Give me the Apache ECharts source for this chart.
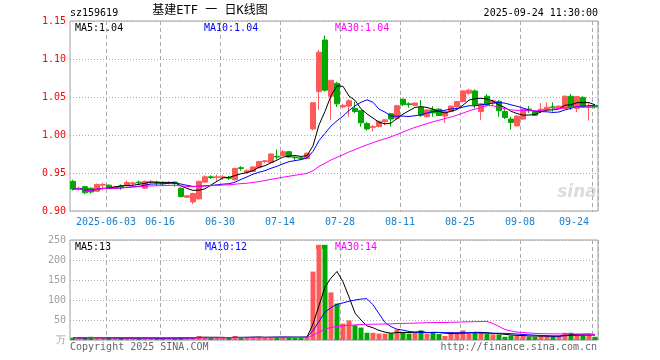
<!DOCTYPE html>
<html><head><meta charset="utf-8">
<script src="https://cdn.jsdelivr.net/npm/echarts@6/dist/echarts.min.js"></script>
<style>html,body{margin:0;padding:0;background:#fff}#c{width:660px;height:360px}</style>
</head><body><div id="c"></div>
<script>
const dates = [
'2025-05-23','2025-05-26','2025-05-27','2025-05-28','2025-05-29','2025-05-30',
'2025-06-03','2025-06-04','2025-06-05','2025-06-06','2025-06-09','2025-06-10','2025-06-11','2025-06-12','2025-06-13',
'2025-06-16','2025-06-17','2025-06-18','2025-06-19','2025-06-20','2025-06-23','2025-06-24','2025-06-25','2025-06-26','2025-06-27',
'2025-06-30','2025-07-01','2025-07-02','2025-07-03','2025-07-04','2025-07-07','2025-07-08','2025-07-09','2025-07-10','2025-07-11',
'2025-07-14','2025-07-15','2025-07-16','2025-07-17','2025-07-18','2025-07-21','2025-07-22','2025-07-23','2025-07-24','2025-07-25',
'2025-07-28','2025-07-29','2025-07-30','2025-07-31','2025-08-01','2025-08-04','2025-08-05','2025-08-06','2025-08-07','2025-08-08',
'2025-08-11','2025-08-12','2025-08-13','2025-08-14','2025-08-15','2025-08-18','2025-08-19','2025-08-20','2025-08-21','2025-08-22',
'2025-08-25','2025-08-26','2025-08-27','2025-08-28','2025-08-29','2025-09-01','2025-09-02','2025-09-03','2025-09-04','2025-09-05',
'2025-09-08','2025-09-09','2025-09-10','2025-09-11','2025-09-12','2025-09-15','2025-09-16','2025-09-17','2025-09-18','2025-09-19',
'2025-09-22','2025-09-23','2025-09-24'];

const opens = [
0.939,0.929,0.932,0.930,0.926,0.934,0.934,0.930,0.933,0.934,
0.936,0.938,0.930,0.938,0.938,0.937,0.937,0.938,0.930,0.918,
0.912,0.916,0.938,0.945,0.944,0.944,0.944,0.941,0.957,0.951,
0.952,0.957,0.965,0.964,0.972,0.973,0.978,0.971,0.970,0.969,
1.008,1.057,1.125,1.051,1.068,1.037,1.038,1.035,1.032,1.015,
1.010,1.011,1.0175,1.028,1.022,1.047,1.041,1.039,1.0365,1.024,
1.033,1.034,1.025,1.031,1.037,1.044,1.055,1.058,1.031,1.051,
1.042,1.044,1.031,1.021,1.012,1.021,1.034,1.031,1.033,1.0335,
1.037,1.0355,1.035,1.051,1.035,1.0495,1.037,1.039];

const closes = [
0.929,0.930,0.924,0.925,0.935,0.935,0.931,0.932,0.932,0.9375,
0.937,0.937,0.939,0.939,0.937,0.936,0.9375,0.936,0.919,0.920,
0.923,0.939,0.945,0.944,0.945,0.945,0.943,0.956,0.956,0.953,
0.958,0.965,0.966,0.975,0.971,0.978,0.971,0.970,0.969,0.976,
1.0425,1.109,1.059,1.072,1.041,1.039,1.045,1.031,1.016,1.008,
1.011,1.018,1.020,1.021,1.0385,1.040,1.040,1.042,1.026,1.033,
1.029,1.0255,1.031,1.038,1.044,1.058,1.059,1.0395,1.041,1.0395,
1.045,1.032,1.023,1.0165,1.025,1.034,1.033,1.026,1.034,1.0365,
1.0365,1.038,1.051,1.0365,1.0505,1.037,1.038,1.037];

const lows = [
0.927,0.927,0.922,0.923,0.925,0.927,0.929,0.929,0.928,0.932,
0.934,0.934,0.929,0.936,0.933,0.933,0.935,0.932,0.918,0.917,
0.909,0.915,0.937,0.942,0.940,0.941,0.941,0.940,0.953,0.949,
0.951,0.956,0.963,0.963,0.968,0.972,0.970,0.966,0.967,0.968,
1.006,1.033,1.057,1.020,1.037,1.035,1.024,1.029,1.011,1.006,
1.0045,1.010,1.013,1.011,1.020,1.038,1.036,1.038,1.024,1.023,
1.024,1.025,1.016,1.030,1.036,1.043,1.053,1.035,1.020,1.038,
1.038,1.024,1.021,1.007,1.011,1.020,1.029,1.025,1.029,1.033,
1.031,1.035,1.034,1.033,1.030,1.036,1.019,1.035];

const highs = [
0.941,0.932,0.933,0.931,0.936,0.937,0.935,0.933,0.935,0.940,
0.939,0.940,0.940,0.941,0.940,0.939,0.939,0.939,0.931,0.921,
0.924,0.940,0.947,0.947,0.948,0.947,0.946,0.957,0.959,0.955,
0.959,0.966,0.967,0.976,0.981,0.980,0.979,0.972,0.971,0.977,
1.0425,1.112,1.131,1.072,1.070,1.041,1.047,1.044,1.033,1.017,
1.013,1.019,1.021,1.029,1.040,1.048,1.043,1.043,1.046,1.034,
1.038,1.035,1.032,1.039,1.045,1.059,1.061,1.060,1.042,1.054,
1.047,1.046,1.034,1.024,1.026,1.035,1.038,1.032,1.042,1.043,
1.043,1.039,1.052,1.054,1.051,1.051,1.042,1.040];

// volume in 万
const volumes = [
6,5,5,8,5,5,5,5,5,5,
5,5,5,5,5,4,5,5,7,5,
6,10,7,6,5,5,6,10,6,6,
7,8,7,7,7,7,7,7,7,8,
171,238,238,119,91,41,49,37,31,18,
18,16,16,17,26,19,16,19,24,16,
20,15,10,19,19,24,16,18,18,16,
14,14,8,11,11,12,8,8,10,11,
9,10,18,18,15,11,13,8];

const tickDates = ['2025-06-03','2025-06-16','2025-06-30','2025-07-14','2025-07-28','2025-08-11','2025-08-25','2025-09-08','2025-09-24'];
const priceTicks = [0.90, 0.95, 1.00, 1.05, 1.10, 1.15];
const volTicks = [0, 50, 100, 150, 200, 250];

const UP = '#ff5a5a', DOWN = '#00a800';
const MONO = '"DejaVu Sans Mono","Liberation Mono",monospace';
const tickSet = new Set(tickDates);

function ma(arr, n) {
  return arr.map((v, i) => {
    const s = Math.max(0, i - n + 1);
    let sum = 0;
    for (let k = s; k <= i; k++) sum += arr[k];
    return sum / (i - s + 1);
  });
}
const ma5 = ma(closes, 5), ma10 = ma(closes, 10), ma30 = ma(closes, 30);
const vma5 = ma(volumes, 5), vma10 = ma(volumes, 10), vma30 = ma(volumes, 30);
const last = dates.length - 1;

const candleData = dates.map((d, i) => [opens[i], closes[i], lows[i], highs[i]]);
const volData = volumes.map((v, i) => ({
  value: v,
  itemStyle: { color: closes[i] >= opens[i] ? UP : DOWN }
}));

const intervalFn = (idx, val) => tickSet.has(val);

function xAx(grid, showLabel) {
  return {
    type: 'category', data: dates, gridIndex: grid, boundaryGap: true,
    axisLine: { show: false }, axisTick: { show: false },
    axisLabel: {
      show: showLabel, interval: intervalFn, color: '#1a80cc',
      fontFamily: MONO, fontSize: 10, margin: 6, padding: [0, 6, 0, 0],
      alignMaxLabel: 'right', hideOverlap: false,
      formatter: v => v === tickDates[0] ? v : v.slice(5)
    },
    splitLine: { show: true, interval: intervalFn, lineStyle: { color: '#aaa', type: [4, 3], width: 1 } }
  };
}

const chart = echarts.init(document.getElementById('c'), null, { renderer: 'canvas' });
chart.setOption({
  animation: false,
  backgroundColor: '#fff',
  grid: [
    { left: 70, top: 21, width: 528, height: 190, show: true, borderColor: '#a0a0a0', borderWidth: 1, backgroundColor: 'transparent' },
    { left: 70, top: 240, width: 528, height: 100, show: true, borderColor: '#a0a0a0', borderWidth: 1, backgroundColor: 'transparent' }
  ],
  xAxis: [xAx(0, true), xAx(1, false)],
  yAxis: [
    {
      type: 'value', gridIndex: 0, min: priceTicks[0], max: priceTicks[priceTicks.length - 1], interval: 0.05,
      axisLine: { show: false }, axisTick: { show: false },
      axisLabel: { color: '#ff0000', fontFamily: MONO, fontSize: 10, margin: 4, formatter: v => v.toFixed(2) },
      splitLine: { lineStyle: { color: '#aaa', type: [1, 2] } }
    },
    {
      type: 'value', gridIndex: 1, min: volTicks[0], max: volTicks[volTicks.length - 1], interval: 50,
      axisLine: { show: false }, axisTick: { show: false },
      axisLabel: { color: '#a0a0a0', fontFamily: MONO, fontSize: 10, margin: 4, formatter: v => v === 0 ? '万' : String(v) },
      splitLine: { lineStyle: { color: '#aaa', type: [1, 2] } }
    }
  ],
  series: [
    {
      type: 'candlestick', xAxisIndex: 0, yAxisIndex: 0, data: candleData, barWidth: 5,
      itemStyle: { color: UP, color0: DOWN, borderColor: UP, borderColor0: DOWN, borderWidth: 1 }
    },
    { type: 'line', xAxisIndex: 0, yAxisIndex: 0, data: ma5, symbol: 'none', lineStyle: { color: '#000', width: 1 } },
    { type: 'line', xAxisIndex: 0, yAxisIndex: 0, data: ma10, symbol: 'none', lineStyle: { color: '#0000ff', width: 1 } },
    { type: 'line', xAxisIndex: 0, yAxisIndex: 0, data: ma30, symbol: 'none', lineStyle: { color: '#ff00ff', width: 1 } },
    { type: 'bar', xAxisIndex: 1, yAxisIndex: 1, data: volData, barWidth: 5 },
    { type: 'line', xAxisIndex: 1, yAxisIndex: 1, data: vma5, symbol: 'none', lineStyle: { color: '#000', width: 1 } },
    { type: 'line', xAxisIndex: 1, yAxisIndex: 1, data: vma10, symbol: 'none', lineStyle: { color: '#0000ff', width: 1 } },
    { type: 'line', xAxisIndex: 1, yAxisIndex: 1, data: vma30, symbol: 'none', lineStyle: { color: '#ff00ff', width: 1 } }
  ],
  graphic: [
    { type: 'text', x: 70, y: 8, style: { text: 'sz159619', font: '10px ' + MONO, fill: '#000' } },
    { type: 'text', x: 210, y: 5, style: { text: '基建ETF 一 日K线图', font: '12px "DejaVu Sans Mono","Noto Sans CJK SC"', fill: '#000', textAlign: 'center' } },
    { type: 'text', x: 598, y: 8, style: { text: '2025-09-24 11:30:00', font: '10px ' + MONO, fill: '#000', textAlign: 'right' } },
    { type: 'text', x: 75, y: 23, style: { text: 'MA5:' + ma5[last].toFixed(2), font: '10px ' + MONO, fill: '#000' } },
    { type: 'text', x: 204, y: 23, style: { text: 'MA10:' + ma10[last].toFixed(2), font: '10px ' + MONO, fill: '#0000ff' } },
    { type: 'text', x: 335, y: 23, style: { text: 'MA30:' + ma30[last].toFixed(2), font: '10px ' + MONO, fill: '#ff00ff' } },
    { type: 'text', x: 75, y: 242, style: { text: 'MA5:' + Math.round(vma5[last]), font: '10px ' + MONO, fill: '#000' } },
    { type: 'text', x: 205, y: 242, style: { text: 'MA10:' + Math.round(vma10[last]), font: '10px ' + MONO, fill: '#0000ff' } },
    { type: 'rect', shape: { x: 316, y: 245, width: 4, height: 4 }, style: { fill: UP } },
    { type: 'rect', shape: { x: 322, y: 245, width: 4, height: 4 }, style: { fill: DOWN } },
    { type: 'text', x: 335, y: 242, style: { text: 'MA30:' + Math.round(vma30[last]), font: '10px ' + MONO, fill: '#ff00ff' } },
    { type: 'text', x: 70, y: 342, style: { text: 'Copyright 2025 SINA.COM', font: '10px ' + MONO, fill: '#666' } },
    { type: 'text', x: 597, y: 342, style: { text: 'http://finance.sina.com.cn', font: '10px ' + MONO, fill: '#666', textAlign: 'right' } },
    { type: 'text', x: 577, y: 184, z: 0, style: { text: 'sina', font: 'italic bold 17px "DejaVu Sans"', fill: '#dcdcdc', textAlign: 'center' } }
  ]
});
</script>
</body></html>
